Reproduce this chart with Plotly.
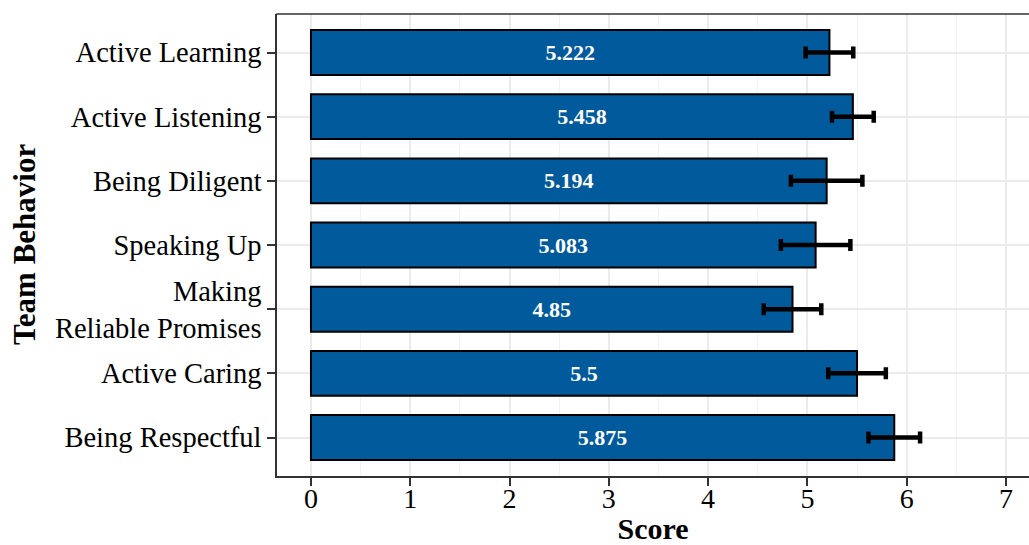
import plotly.graph_objects as go

behaviors = ["Active Learning", "Active Listening", "Being Diligent", "Speaking Up",
             "Making<br>Reliable Promises", "Active Caring", "Being Respectful"]
scores = [5.222, 5.458, 5.194, 5.083, 4.85, 5.5, 5.875]
score_labels = ["5.222", "5.458", "5.194", "5.083", "4.85", "5.5", "5.875"]
errors = [0.24, 0.21, 0.36, 0.35, 0.29, 0.29, 0.26]
x_ticks = [0, 1, 2, 3, 4, 5, 6, 7]

FONT = "Liberation Serif"
BAR = "rgb(0,90,156)"

fig = go.Figure()
fig.add_trace(go.Bar(
    y=behaviors, x=scores, orientation="h", width=0.7,
    marker=dict(color=BAR, line=dict(color="black", width=2)),
    text=score_labels, textposition="inside", insidetextanchor="middle",
    textfont=dict(family=FONT, size=22, color="white", weight="bold"),
    error_x=dict(type="data", array=errors, color="black", thickness=4.5, width=6),
    cliponaxis=False,
))

fig.update_layout(
    width=1029, height=545,
    margin=dict(l=277, r=0, t=14, b=69, autoexpand=False),
    paper_bgcolor="white", plot_bgcolor="white",
    showlegend=False,
    font=dict(family=FONT, color="black"),
    xaxis=dict(
        automargin=False,
        range=[-0.342, 7.232], tickvals=x_ticks, ticktext=[str(v) for v in x_ticks],
        showgrid=True, gridcolor="#EBEBEB", gridwidth=1.5,
        minor=dict(dtick=0.5, tick0=0, showgrid=True, gridcolor="#F2F2F2", gridwidth=0.8),
        zeroline=False, showline=True, linecolor="#333333", linewidth=1.5,
        ticks="outside", ticklen=8, tickwidth=1.5, tickcolor="#333333",
        ticklabelstandoff=-11,
        tickfont=dict(family=FONT, size=28, color="black"),
        title=dict(text="<b>Score</b>", font=dict(family=FONT, size=30, color="black"), standoff=8),
    ),
    yaxis=dict(
        automargin=False,
        categoryorder="array", categoryarray=behaviors[::-1], range=[-0.6, 6.6],
        showgrid=True, gridcolor="#EBEBEB", gridwidth=1.5,
        zeroline=False, showline=True, linecolor="#333333", linewidth=1.5,
        ticks="outside", ticklen=8, tickwidth=1.5, tickcolor="#333333",
        tickfont=dict(family=FONT, size=28.5, color="black"),
    ),
    annotations=[dict(text="<b>Team Behavior</b>", textangle=-90, showarrow=False,
                      xref="paper", yref="paper", x=-0.3364, y=0.5,
                      xanchor="center", yanchor="middle",
                      font=dict(family=FONT, size=31, color="black"))],
    shapes=[dict(type="line", xref="paper", yref="paper", x0=-0.001, x1=1.01, y0=1, y1=1,
                 line=dict(color="#333333", width=1.5))],
)

fig.write_html("out.html")
